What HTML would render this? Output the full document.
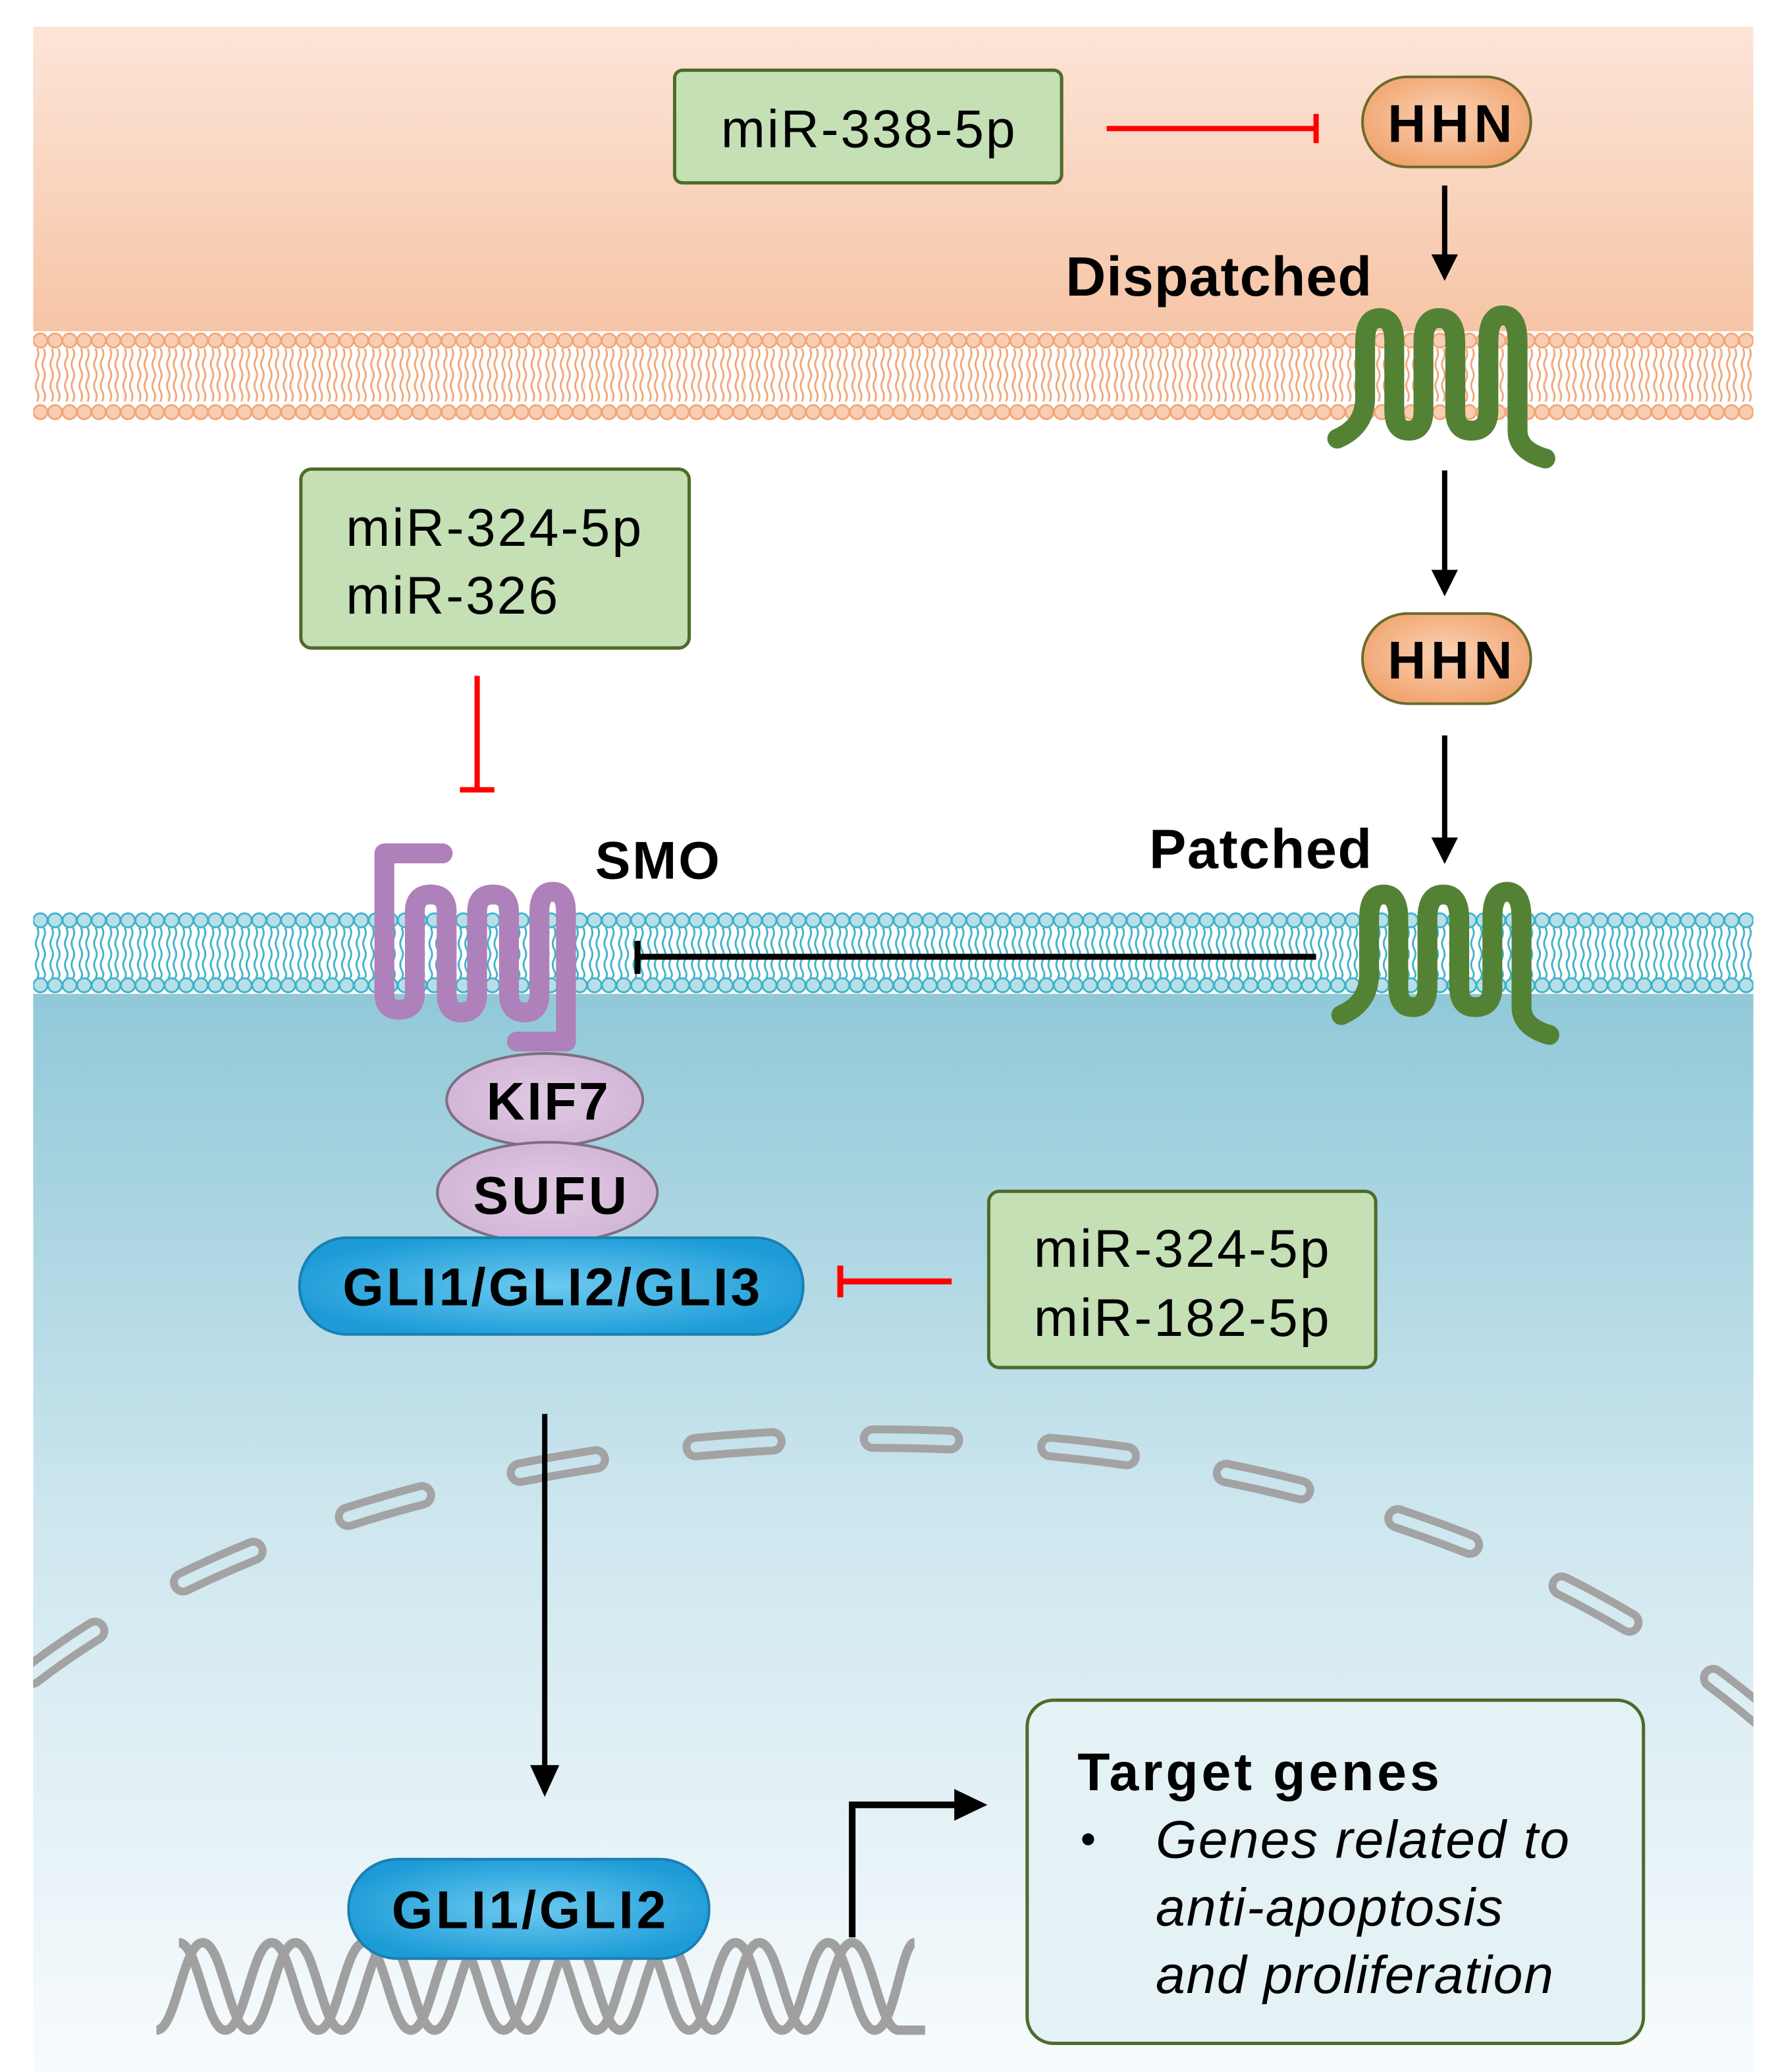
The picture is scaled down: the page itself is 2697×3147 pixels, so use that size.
<!DOCTYPE html>
<html><head><meta charset="utf-8"><style>html,body{margin:0;padding:0;background:#fff}svg{display:block}</style></head>
<body>
<svg xmlns="http://www.w3.org/2000/svg" width="2697" height="3147" viewBox="0 0 1340 1563.6" preserveAspectRatio="none" font-family="'Liberation Sans', Arial, sans-serif">
<defs>
<linearGradient id="top" x1="0" y1="0" x2="0" y2="1"><stop offset="0" stop-color="#fce5d8"/><stop offset="1" stop-color="#f6c4a5"/></linearGradient>
<linearGradient id="cyto" gradientUnits="userSpaceOnUse" x1="0" y1="745" x2="0" y2="1563"><stop offset="0" stop-color="#90c8d8"/><stop offset="0.5" stop-color="#cfe7ef"/><stop offset="1" stop-color="#f8fbfd"/></linearGradient>
<pattern id="memO" patternUnits="userSpaceOnUse" x="25" y="250" width="11" height="68">
<rect width="11" height="68" fill="#fff"/>
<path d="M3,13 q2,4 0,8 q-2,4 0,8 q2,4 0,8 q-2,4 0,8 q2,4 0,8 M8,13 q2,4 0,8 q-2,4 0,8 q2,4 0,8 q-2,4 0,8 q2,4 0,8" fill="none" stroke="#f2a678" stroke-width="1.4"/>
<circle cx="5.5" cy="7" r="5.3" fill="#f9cdb1" stroke="#f2a678" stroke-width="1.4"/>
<circle cx="5.5" cy="61" r="5.3" fill="#f9cdb1" stroke="#f2a678" stroke-width="1.4"/>
</pattern>
<pattern id="memB" patternUnits="userSpaceOnUse" x="25" y="688" width="11" height="62">
<rect width="11" height="62" fill="#fff"/>
<path d="M3,12 q2,4 0,8 q-2,4 0,8 q2,4 0,8 q-2,4 0,8 q2,4 0,6 M8,12 q2,4 0,8 q-2,4 0,8 q2,4 0,8 q-2,4 0,8 q2,4 0,6" fill="none" stroke="#3db2cc" stroke-width="1.4"/>
<circle cx="5.5" cy="6.5" r="5.3" fill="#b8dfe8" stroke="#3db2cc" stroke-width="1.4"/>
<circle cx="5.5" cy="55.5" r="5.3" fill="#b8dfe8" stroke="#3db2cc" stroke-width="1.4"/>
</pattern>
<radialGradient id="hhn" cx="0.5" cy="0.45" r="0.6"><stop offset="0" stop-color="#fbd2b4"/><stop offset="1" stop-color="#f0a26c"/></radialGradient>
<radialGradient id="gli" cx="0.5" cy="0.5" r="0.55"><stop offset="0" stop-color="#6ccaf0"/><stop offset="1" stop-color="#1c9bd7"/></radialGradient>
<radialGradient id="pur" cx="0.5" cy="0.5" r="0.6"><stop offset="0" stop-color="#e1cbe3"/><stop offset="1" stop-color="#d0b2d6"/></radialGradient>
<clipPath id="panel"><rect x="25" y="20" width="1298" height="1544"/></clipPath>
</defs>

<g clip-path="url(#panel)">
<rect x="25" y="20" width="1298" height="235" fill="url(#top)"/>
<rect x="25" y="250" width="1298" height="68" fill="url(#memO)"/>
<rect x="25" y="318" width="1298" height="370" fill="#fff"/>
<rect x="25" y="745" width="1298" height="820" fill="url(#cyto)"/>
<rect x="25" y="688" width="1298" height="62" fill="url(#memB)"/>
<path d="M10,1275 C300,1035 1000,1000 1340,1305" fill="none" stroke="#a3a3a3" stroke-width="20" stroke-linecap="round" stroke-dasharray="58 76" stroke-dashoffset="-18"/>
<path d="M10,1275 C300,1035 1000,1000 1340,1305" fill="none" stroke="url(#cyto)" stroke-width="8" stroke-linecap="round" stroke-dasharray="58 76" stroke-dashoffset="-18"/>
</g>

<rect x="509" y="53" width="292" height="85" rx="6" fill="#c5e0b4" stroke="#4f6b2a" stroke-width="2.5"/>
<text x="655" y="111" font-size="40" text-anchor="middle" textLength="222">miR-338-5p</text>
<line x1="835" y1="97" x2="993" y2="97" stroke="#ff0000" stroke-width="4"/>
<line x1="993" y1="86" x2="993" y2="108" stroke="#ff0000" stroke-width="4"/>

<rect x="1028" y="58" width="127" height="68" rx="34" fill="url(#hhn)" stroke="#6b6b2a" stroke-width="2"/>
<text x="1094" y="107" font-size="40" font-weight="bold" text-anchor="middle" textLength="94">HHN</text>
<line x1="1090" y1="140" x2="1090" y2="195" stroke="#000" stroke-width="4"/>
<path d="M1080,192 L1100,192 L1090,212 Z" fill="#000"/>
<text x="804" y="223" font-size="42" font-weight="bold" textLength="231">Dispatched</text>

<path d="M1009,331 Q1030,322 1030,300 L1030,258 Q1030,240 1041,240 Q1052,240 1052,258 L1052,310 Q1052,325 1063,325 Q1074,325 1074,310 L1074,258 Q1074,240 1086,240 Q1098,240 1098,258 L1098,310 Q1098,325 1110,325 Q1123,325 1123,310 L1123,258 Q1123,238 1134,238 Q1145,238 1145,258 L1145,325 Q1145,340 1166,346" fill="none" stroke="#548235" stroke-width="15" stroke-linecap="round" stroke-linejoin="round"/>

<line x1="1090" y1="355" x2="1090" y2="432" stroke="#000" stroke-width="4"/>
<path d="M1080,430 L1100,430 L1090,450 Z" fill="#000"/>

<rect x="1028" y="463" width="127" height="68" rx="34" fill="url(#hhn)" stroke="#6b6b2a" stroke-width="2"/>
<text x="1094" y="512" font-size="40" font-weight="bold" text-anchor="middle" textLength="94">HHN</text>
<line x1="1090" y1="555" x2="1090" y2="635" stroke="#000" stroke-width="4"/>
<path d="M1080,632 L1100,632 L1090,652 Z" fill="#000"/>
<text x="867" y="655" font-size="42" font-weight="bold" textLength="168">Patched</text>

<path d="M1012,766 Q1033,757 1033,735 L1033,693 Q1033,675 1044,675 Q1055,675 1055,693 L1055,745 Q1055,760 1066,760 Q1077,760 1077,745 L1077,693 Q1077,675 1089,675 Q1101,675 1101,693 L1101,745 Q1101,760 1113,760 Q1126,760 1126,745 L1126,693 Q1126,673 1137,673 Q1148,673 1148,693 L1148,760 Q1148,775 1169,781" fill="none" stroke="#548235" stroke-width="15" stroke-linecap="round" stroke-linejoin="round"/>

<line x1="993" y1="722" x2="481" y2="722" stroke="#000" stroke-width="4.5"/>
<line x1="481" y1="710" x2="481" y2="735" stroke="#000" stroke-width="4.5"/>

<rect x="227" y="354" width="293" height="135" rx="8" fill="#c5e0b4" stroke="#4f6b2a" stroke-width="2.5"/>
<text x="261" y="412" font-size="40" textLength="223">miR-324-5p</text>
<text x="261" y="463" font-size="40" textLength="160">miR-326</text>
<line x1="360" y1="510" x2="360" y2="596" stroke="#ff0000" stroke-width="4"/>
<line x1="347" y1="596" x2="373" y2="596" stroke="#ff0000" stroke-width="4"/>

<text x="449" y="663" font-size="40" font-weight="bold" textLength="94">SMO</text>

<ellipse cx="411" cy="830" rx="74" ry="35" fill="url(#pur)" stroke="#7d6f80" stroke-width="2"/>
<text x="413" y="845" font-size="40" font-weight="bold" text-anchor="middle" textLength="92">KIF7</text>
<ellipse cx="413" cy="900" rx="83" ry="38" fill="url(#pur)" stroke="#7d6f80" stroke-width="2"/>
<text x="415" y="916" font-size="40" font-weight="bold" text-anchor="middle" textLength="116">SUFU</text>

<path d="M334,644 L290,644 L290,750 Q290,762 301,762 Q313,762 313,750 L313,688 Q313,675 325,675 Q337,675 337,688 L337,750 Q337,764 348,764 Q360,764 360,750 L360,688 Q360,675 372,675 Q384,675 384,688 L384,750 Q384,764 396,764 Q407,764 407,750 L407,688 Q407,673 417,673 Q427,673 427,688 L427,786 L390,786" fill="none" stroke="#ae81ba" stroke-width="15" stroke-linecap="round" stroke-linejoin="round"/>

<rect x="226" y="934" width="380" height="73" rx="36" fill="url(#gli)" stroke="#1a7fb2" stroke-width="2"/>
<text x="416" y="985" font-size="40" font-weight="bold" text-anchor="middle" textLength="315">GLI1/GLI2/GLI3</text>
<line x1="718" y1="967" x2="634" y2="967" stroke="#ff0000" stroke-width="4.5"/>
<line x1="634" y1="955" x2="634" y2="979" stroke="#ff0000" stroke-width="4.5"/>

<rect x="746" y="899" width="292" height="133" rx="8" fill="#c5e0b4" stroke="#4f6b2a" stroke-width="2.5"/>
<text x="780" y="956" font-size="40" textLength="223">miR-324-5p</text>
<text x="780" y="1008" font-size="40" textLength="223">miR-182-5p</text>

<line x1="411" y1="1067" x2="411" y2="1335" stroke="#000" stroke-width="4"/>
<path d="M400,1332 L422,1332 L411,1356 Z" fill="#000"/>

<g fill="none" stroke="#a0a0a0" stroke-width="7">
<path d="M118,1532 C133,1532 138,1466 153,1466 C168,1466 173,1532 188,1532 C203,1532 208,1466 223,1466 C238,1466 243,1532 258,1532 C273,1532 278,1466 293,1466 C308,1466 313,1532 328,1532 C343,1532 348,1466 363,1466 C378,1466 383,1532 398,1532 C413,1532 418,1466 433,1466 C448,1466 453,1532 468,1532 C483,1532 488,1466 503,1466 C518,1466 523,1532 538,1532 C553,1532 558,1466 573,1466 C588,1466 593,1532 608,1532 C623,1532 628,1466 643,1466 C658,1466 663,1532 678,1532 L698,1532"/>
<path d="M135,1466 C150,1466 155,1532 170,1532 C185,1532 190,1466 205,1466 C220,1466 225,1532 240,1532 C255,1532 260,1466 275,1466 C290,1466 295,1532 310,1532 C325,1532 330,1466 345,1466 C360,1466 365,1532 380,1532 C395,1532 400,1466 415,1466 C430,1466 435,1532 450,1532 C465,1532 470,1466 485,1466 C500,1466 505,1532 520,1532 C535,1532 540,1466 555,1466 C570,1466 575,1532 590,1532 C605,1532 610,1466 625,1466 C640,1466 645,1532 660,1532 C675,1532 680,1466 690,1466"/>
</g>

<rect x="263" y="1403" width="272" height="75" rx="37" fill="url(#gli)" stroke="#1a7fb2" stroke-width="2"/>
<text x="399" y="1455" font-size="40" font-weight="bold" text-anchor="middle" textLength="207">GLI1/GLI2</text>

<path d="M643,1462 L643,1362 L722,1362" fill="none" stroke="#000" stroke-width="5"/>
<path d="M720,1350 L745,1362 L720,1374 Z" fill="#000"/>

<rect x="775" y="1283" width="465" height="259" rx="20" fill="#e4f1f5" stroke="#4f6b2a" stroke-width="2.5"/>
<text x="813" y="1351" font-size="40" font-weight="bold" textLength="273">Target genes</text>
<circle cx="821" cy="1388" r="4.5" fill="#000"/>
<text x="872" y="1402" font-size="40" font-style="italic" textLength="312">Genes related to</text>
<text x="872" y="1453" font-size="40" font-style="italic" textLength="262">anti-apoptosis</text>
<text x="872" y="1504" font-size="40" font-style="italic" textLength="300">and proliferation</text>
</svg>
</body></html>
